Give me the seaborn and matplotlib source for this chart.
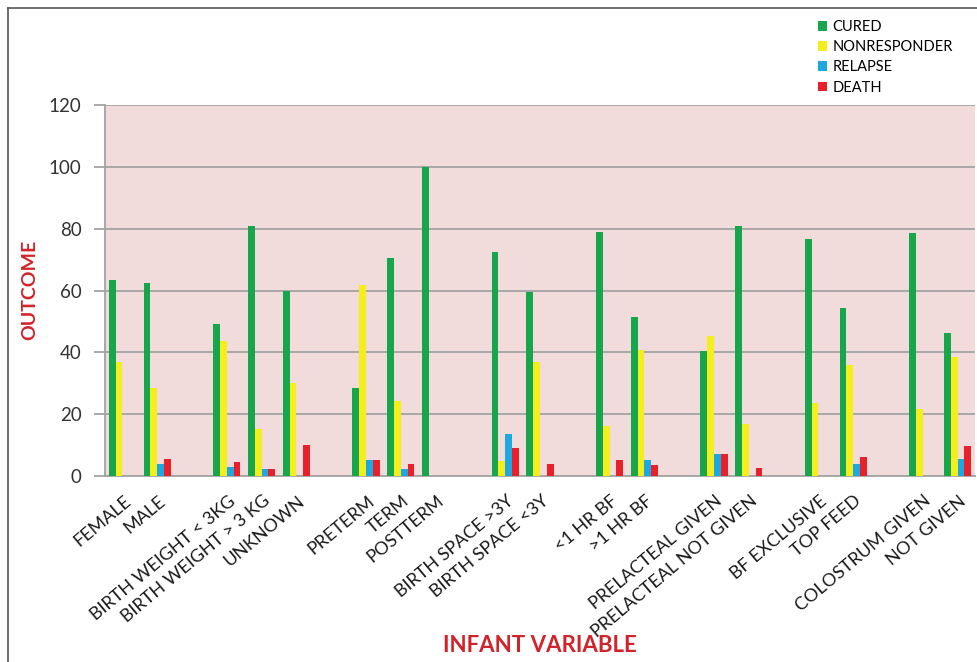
import matplotlib
matplotlib.use("Agg")
import matplotlib.pyplot as plt
import matplotlib.transforms as mtransforms
from matplotlib.lines import Line2D
import seaborn as sns
import pandas as pd

# Infant variables, grouped; a blank slot separates consecutive groups
groups = [
    ["FEMALE", "MALE"],
    ["BIRTH WEIGHT < 3KG", "BIRTH WEIGHT > 3 KG", "UNKNOWN"],
    ["PRETERM", "TERM", "POSTTERM"],
    ["BIRTH SPACE >3Y", "BIRTH SPACE <3Y"],
    ["<1 HR BF", ">1 HR BF"],
    ["PRELACTEAL GIVEN", "PRELACTEAL NOT GIVEN"],
    ["BF EXCLUSIVE", "TOP FEED"],
    ["COLOSTRUM GIVEN", "NOT GIVEN"],
]
categories = [c for g in groups for c in g]

cured = [63.4, 62.5, 49.3, 80.9, 59.9, 28.6, 70.4, 100.0, 72.6, 59.4,
         79.0, 51.5, 40.5, 80.9, 76.8, 54.5, 78.5, 46.1]
nonresponder = [36.9, 28.6, 43.7, 15.1, 30.2, 61.8, 24.3, 0.0, 4.9, 36.9,
                16.2, 40.8, 45.3, 16.7, 23.7, 35.8, 21.6, 38.6]
relapse = [0.0, 3.8, 3.0, 2.2, 0.0, 5.1, 2.2, 0.0, 13.7, 0.0,
           0.0, 5.1, 7.2, 0.0, 0.0, 4.0, 0.0, 5.6]
death = [0.0, 5.6, 4.6, 2.2, 10.0, 5.1, 4.0, 0.0, 9.2, 4.0,
         5.1, 3.5, 7.2, 2.5, 0.0, 6.3, 0.0, 9.7]

outcomes = ["CURED", "NONRESPONDER", "RELAPSE", "DEATH"]
colors = ["#17a64b", "#f4ee1c", "#1da8e2", "#e8202a"]
yticks = [0, 20, 40, 60, 80, 100, 120]

# Slot order with spacer slots between the groups
order, tick_labels = [], []
for i, g in enumerate(groups):
    if i > 0:
        order.append(f"spacer{i}")
        tick_labels.append("")
    order.extend(g)
    tick_labels.extend(g)

series = dict(zip(outcomes, [cured, nonresponder, relapse, death]))
rows = []
for name, vals in series.items():
    for cat, v in zip(categories, vals):
        rows.append({"variable": cat, "outcome": name, "value": v})
df = pd.DataFrame(rows)

plt.rcParams["font.family"] = ["Lato", "DejaVu Sans"]

fig = plt.figure(figsize=(9.77, 6.62), dpi=100)
ax = fig.add_axes([105 / 977, 1 - 476 / 662, (975 - 105) / 977, (476 - 105) / 662])
ax.set_facecolor("#f2dbdb")

sns.barplot(data=df, x="variable", y="value", hue="outcome",
            order=order, hue_order=outcomes, palette=colors,
            width=0.78, gap=0, saturation=1, errorbar=None, ax=ax,
            linewidth=0, zorder=3)

ax.set_ylim(0, 120)
ax.set_yticks(yticks)
ax.set_xlim(-0.5, len(order) - 0.5)
ax.yaxis.grid(True, color="#a3a3a3", linewidth=1.3, zorder=1)
ax.set_axisbelow(True)
for s in ["top", "right"]:
    ax.spines[s].set_visible(False)
for s in ["left", "bottom"]:
    ax.spines[s].set_color("#a3a3a3")
    ax.spines[s].set_linewidth(1.3)

ax.tick_params(axis="y", length=8, width=1.3, color="#a3a3a3",
               labelsize=13.5, labelcolor="#333333", pad=9)
ax.tick_params(axis="x", length=0, pad=12)
ax.set_xticks(range(len(order)))
ax.set_xticklabels(tick_labels, rotation=40, ha="right",
                   rotation_mode="anchor", fontsize=13, color="#1a1a1a")
shift = mtransforms.ScaledTranslation(1 / 100, 0, fig.dpi_scale_trans)
for lbl in ax.get_xticklabels():
    lbl.set_transform(lbl.get_transform() + shift)

ax.set_xlabel("")
ax.set_ylabel("")
fig.text(30 / 977, 1 - 290 / 662, "OUTCOME", rotation=90, ha="center",
         va="center", color="#d2232a", fontsize=14, fontweight="bold")
fig.text(540 / 977, 1 - 646 / 662, "INFANT VARIABLE", ha="center",
         va="center", color="#d2232a", fontsize=16, fontweight="bold")

handles, labels = ax.get_legend_handles_labels()
ax.get_legend().remove()
fig.legend(handles, labels, loc="upper left",
           bbox_to_anchor=(812 / 977, 1 - 14 / 662), frameon=False,
           fontsize=10.5, handlelength=0.65, handleheight=0.65,
           handletextpad=0.35, labelspacing=0.43, borderaxespad=0)

# Thin frame lines along the top and left edges of the figure
fig.add_artist(Line2D([8 / 977, 8 / 977], [0, 1 - 8 / 662],
                      transform=fig.transFigure, color="#555555", linewidth=1.2))
fig.add_artist(Line2D([8 / 977, 1], [1 - 8 / 662, 1 - 8 / 662],
                      transform=fig.transFigure, color="#555555", linewidth=1.2))

fig.savefig("out.png", dpi=100)
